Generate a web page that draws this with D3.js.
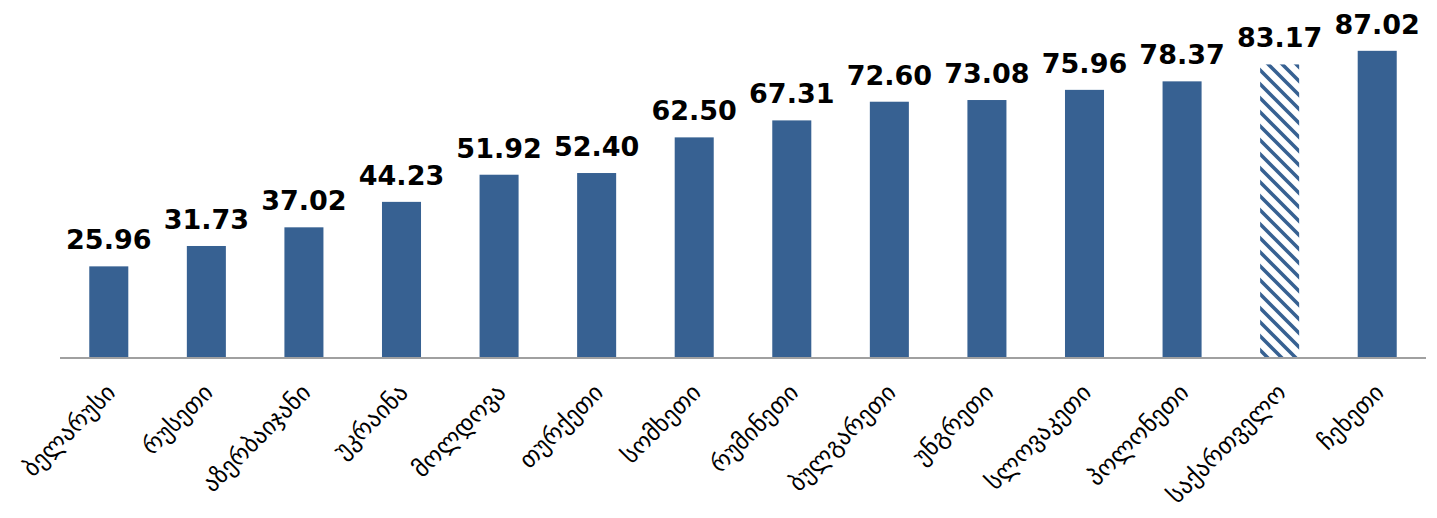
<!DOCTYPE html>
<html>
<head>
<meta charset="utf-8">
<script src="https://cdn.jsdelivr.net/npm/d3@7"></script>
<style>
  body { margin: 0; background: #fff; }
  svg { display: block; }
</style>
</head>
<body>
<svg id="chart" width="1437" height="518"></svg>
<script>
// data
const countries = ["ბელარუსი", "რუსეთი", "აზერბაიჯანი", "უკრაინა", "მოლდოვა", "თურქეთი", "სომხეთი",
  "რუმინეთი", "ბულგარეთი", "უნგრეთი", "სლოვაკეთი", "პოლონეთი", "საქართველო", "ჩეხეთი"];
const scores = [25.96, 31.73, 37.02, 44.23, 51.92, 52.40, 62.50, 67.31, 72.60, 73.08, 75.96, 78.37, 83.17, 87.02];
const highlighted = ["საქართველო"];

const blue = "#376192";
const svg = d3.select("#chart");

const x = d3.scaleBand().domain(countries).range([60, 1426]).paddingInner(0.6).paddingOuter(0.3);
const y = d3.scaleLinear().domain([0, 100]).range([358, 5]);

// hatch for the highlighted bar
const pat = svg.append("defs").append("pattern")
    .attr("id", "hatch")
    .attr("patternUnits", "userSpaceOnUse")
    .attr("width", 14).attr("height", 14);
pat.append("rect").attr("width", 14).attr("height", 14).attr("fill", "#fff");
pat.append("path")
    .attr("d", "M-7,7 L7,21 M0,0 L14,14 M7,-7 L21,7")
    .attr("stroke", blue)
    .attr("stroke-width", 3.6);

const data = countries.map((c, i) => ({ name: c, value: scores[i] }));

svg.append("g").selectAll("rect")
    .data(data)
    .join("rect")
    .attr("x", d => x(d.name))
    .attr("y", d => y(d.value))
    .attr("width", x.bandwidth())
    .attr("height", d => y(0) - y(d.value))
    .attr("fill", d => highlighted.includes(d.name) ? "url(#hatch)" : blue);

// value labels
svg.append("g").selectAll("text")
    .data(data)
    .join("text")
    .attr("x", d => x(d.name) + x.bandwidth() / 2)
    .attr("y", d => y(d.value) - 17)
    .attr("text-anchor", "middle")
    .attr("font-family", "DejaVu Sans")
    .attr("font-weight", "bold")
    .attr("font-size", 27)
    .attr("fill", "#000")
    .text(d => d3.format(".2f")(d.value));

// x axis
const xAxis = svg.append("g")
    .attr("transform", `translate(0,${y(0)})`)
    .call(d3.axisBottom(x).tickSize(0).tickPadding(0));
xAxis.select(".domain").attr("stroke", "#a0a0a0").attr("stroke-width", 2)
    .attr("d", "M60,0H1426");
xAxis.selectAll(".tick text")
    .attr("font-family", "DejaVu Sans")
    .attr("font-size", 24)
    .attr("fill", "#000")
    .attr("text-anchor", "end")
    .attr("dy", null)
    .attr("y", 0)
    .attr("transform", "translate(8,36) rotate(-45)");
</script>
</body>
</html>
